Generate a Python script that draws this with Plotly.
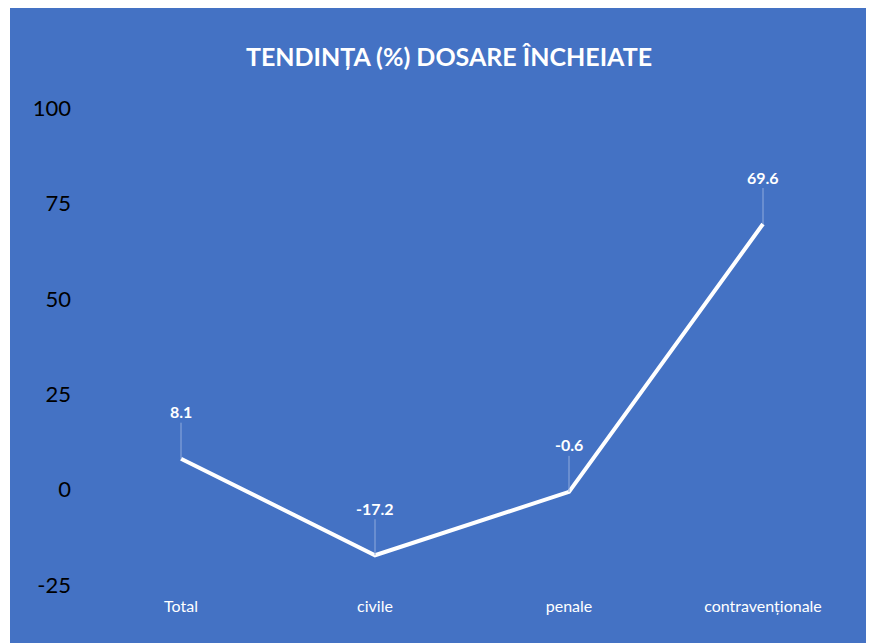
import plotly.graph_objects as go

categories = ["Total", "civile", "penale", "contravenționale"]
values = [8.1, -17.2, -0.6, 69.6]
y_ticks = [-25, 0, 25, 50, 75, 100]
y_tick_labels = ["-25", "0", "25", "50", "75", "100"]

BLUE = "#4472C4"
FONT = "Lato, Open Sans, sans-serif"

# the page body keeps its 8px default margin, so the figure is 8px smaller
W, H = 866, 635
L, R, T, B = 76, 14, 100, 58
pw, ph = W - L - R, H - T - B

fig = go.Figure()

fig.add_trace(go.Scatter(
    x=categories, y=values, mode="lines",
    line=dict(color="white", width=4),
    hoverinfo="x+y", showlegend=False,
))

# data labels with leader lines, Excel style
for cat, val in zip(categories, values):
    fig.add_annotation(
        x=cat, y=val, text=f"<b>{val}</b>",
        showarrow=True, arrowhead=0, arrowwidth=1, arrowcolor="#8FAADC",
        ax=0, ay=-47, standoff=0,
        font=dict(family=FONT, size=16, color="white"),
    )

# thin white strip on the left edge of the original screenshot
fig.add_shape(type="rect", xref="paper", yref="paper",
              x0=-L / pw - 0.01, x1=(2 - L) / pw, y0=-0.2, y1=1.3,
              fillcolor="white", line_width=0, layer="below")

fig.update_layout(
    width=W, height=H,
    margin=dict(l=L, r=R, t=T, b=B),
    paper_bgcolor=BLUE, plot_bgcolor=BLUE,
    title=dict(
        text="<b>TENDINȚA (%) DOSARE ÎNCHEIATE</b>",
        x=(449 - 8) / W, xanchor="center", y=1 - (57 - 8) / H, yanchor="middle",
        font=dict(family=FONT, size=25, color="white"),
    ),
    xaxis=dict(
        type="category", range=[-0.5, 3.5],
        showgrid=False, zeroline=False, showline=False, ticks="",
        ticklabelstandoff=10,
        tickfont=dict(family=FONT, size=16, color="white"),
    ),
    yaxis=dict(
        range=[-25, 100], tickvals=y_ticks, ticktext=y_tick_labels,
        showgrid=False, zeroline=False, showline=False, ticks="",
        ticklabelstandoff=12,
        tickfont=dict(family=FONT, size=22, color="black"),
    ),
)

fig.write_html("out.html")
